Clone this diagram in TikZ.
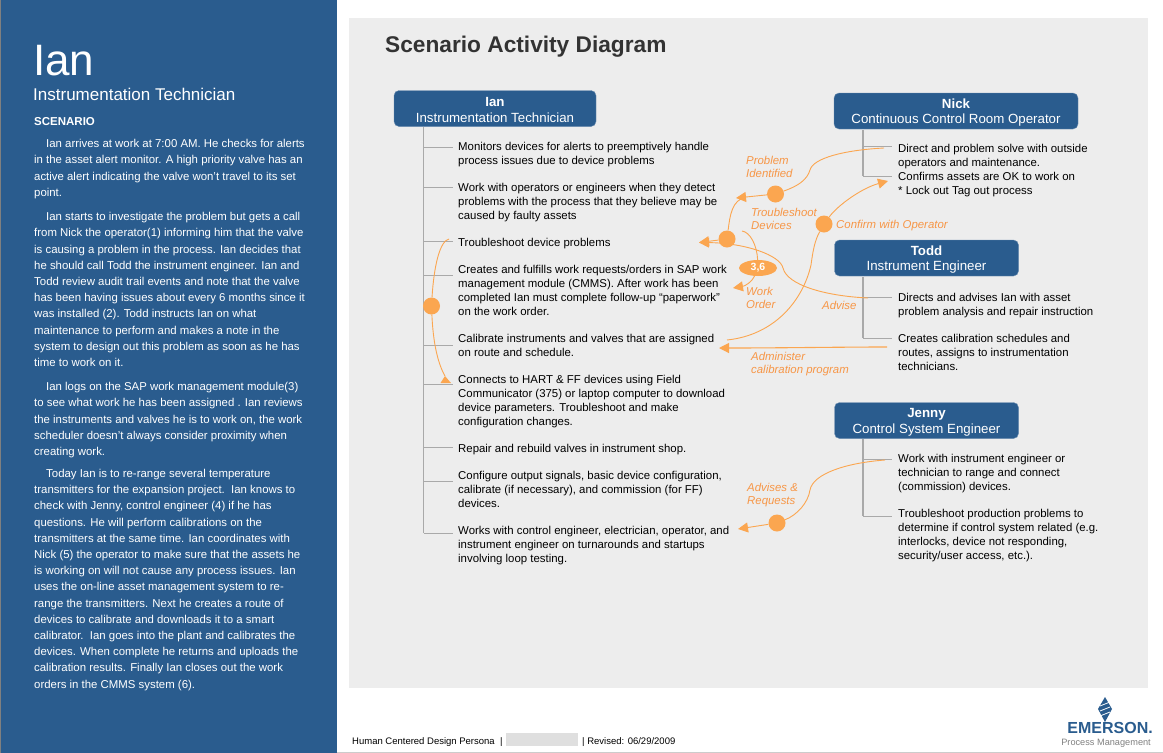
\documentclass[tikz,border=0pt]{standalone}
\usepackage{fontspec}
\setmainfont{Liberation Sans}
\usetikzlibrary{arrows.meta,positioning,shapes.geometric}
\definecolor{panelblue}{HTML}{2A5C8E}
\definecolor{pagegray}{HTML}{EDEDED}
\definecolor{flow}{HTML}{FBA650}
\definecolor{flowtext}{HTML}{F79646}
\definecolor{treegray}{HTML}{A9A9A9}
\newcommand{\headstrut}{\rule{0pt}{12.5pt}}
\tikzset{
    header/.style={draw=panelblue!70, fill=panelblue, rounded corners=5pt, minimum height=36pt, text=white,
        align=center, font=\fontsize{13.3}{15.5}\selectfont, inner sep=0pt},
    activity/.style={anchor=north west, inner sep=0pt, align=left, text=black, font=\fontsize{11.4}{13.9}\selectfont},
    story/.style={anchor=north west, inner sep=0pt, align=left, text=white, font=\fontsize{11.4}{16.2}\selectfont},
    flowlabel/.style={anchor=north west, inner sep=0pt, align=left, text=flowtext, font=\fontsize{11.4}{13}\selectfont\itshape},
    dot/.style={circle, fill=flow, minimum size=17pt, inner sep=0pt},
    flowline/.style={flow, line width=0.9pt},
    flowarrow/.style={flow, line width=0.9pt, -{Triangle[length=10pt,width=10pt]}},
    tree/.style={treegray, line width=1.2pt},
    tick/.style={treegray, line width=1pt},
}
\begin{document}
\begin{tikzpicture}[x=1pt, y=-1pt]
    \useasboundingbox (0,0) rectangle (1163,753);
    % Panels
    \fill[panelblue] (0,0) rectangle (337,753);
    \fill[gray] (0,0) rectangle (1,753);
    \fill[pagegray] (349,18) rectangle (1148,688);
    \draw[gray!40, line width=0.8pt] (337,752) -- (1163,752);
    % Persona
    \node[anchor=base west, inner sep=0pt, text=white, font=\fontsize{44}{44}\selectfont] (name) at (33,75) {Ian};
    \node[anchor=base west, inner sep=0pt, text=white, font=\fontsize{17}{17}\selectfont] (role) at (33,100) {Instrumentation Technician};
    \node[anchor=base west, inner sep=0pt, text=white, font=\fontsize{11.5}{12}\selectfont\bfseries] (scenario) at (34,125) {SCENARIO};
    \node[story] (para1) at (34,139.2) {\hspace*{12pt}Ian arrives at work at 7:00 AM. He checks for alerts\\
        in the asset alert monitor. A high priority valve has an\\
        active alert indicating the valve won't travel to its set\\
        point.};
    \node[story] (para2) at (34,212.2) {\hspace*{12pt}Ian starts to investigate the problem but gets a call\\
        from Nick the operator(1) informing him that the valve\\
        is causing a problem in the process. Ian decides that\\
        he should call Todd the instrument engineer. Ian and\\
        Todd review audit trail events and note that the valve\\
        has been having issues about every 6 months since it\\
        was installed (2). Todd instructs Ian on what\\
        maintenance to perform and makes a note in the\\
        system to design out this problem as soon as he has\\
        time to work on it.};
    \node[story] (para3) at (34,382.2) {\hspace*{12pt}Ian logs on the SAP work management module(3)\\
        to see what work he has been assigned . Ian reviews\\
        the instruments and valves he is to work on, the work\\
        scheduler doesn't always consider proximity when\\
        creating work.};
    \node[story] (para4) at (34,469) {\hspace*{12pt}Today Ian is to re-range several temperature\\
        transmitters for the expansion project.\ \ Ian knows to\\
        check with Jenny, control engineer (4) if he has\\
        questions. He will perform calibrations on the\\
        transmitters at the same time. Ian coordinates with\\
        Nick (5) the operator to make sure that the assets he\\
        is working on will not cause any process issues. Ian\\
        uses the on-line asset management system to re-\\
        range the transmitters. Next he creates a route of\\
        devices to calibrate and downloads it to a smart\\
        calibrator.\ \ Ian goes into the plant and calibrates the\\
        devices. When complete he returns and uploads the\\
        calibration results. Finally Ian closes out the work\\
        orders in the CMMS system (6).};
    % Title
    \node[anchor=base west, inner sep=0pt, text=black!80, font=\fontsize{22.7}{24}\selectfont\bfseries] (title) at (385,52.5) {Scenario Activity Diagram};
    % Headers
    \node[header, minimum width=202pt] (ian) at (495,108.5) {\headstrut\textbf{Ian}\\Instrumentation Technician};
    \node[header, minimum width=244pt] (nick) at (956,111) {\headstrut\textbf{Nick}\\Continuous Control Room Operator};
    \node[header, minimum width=184pt] (todd) at (926.5,258) {\headstrut\textbf{Todd}\\Instrument Engineer};
    \node[header, minimum width=184pt] (jenny) at (926.5,420.5) {\headstrut\textbf{Jenny}\\Control System Engineer};
    % Ian activities
    \node[activity] (monitor) at (458,142.5) {Monitors devices for alerts to preemptively handle\\process issues due to device problems};
    \node[activity] (work) at (458,183) {Work with operators or engineers when they detect\\problems with the process that they believe may be\\caused by faulty assets};
    \node[activity] (shoot) at (458,238.5) {Troubleshoot device problems};
    \node[activity] (orders) at (458,265.5) {Creates and fulfills work requests/orders in SAP work\\management module (CMMS). After work has been\\completed Ian must complete follow-up ``paperwork''\\on the work order.};
    \node[activity] (calib) at (458,334.5) {Calibrate instruments and valves that are assigned\\on route and schedule.};
    \node[activity] (hart) at (458,375) {Connects to HART \& FF devices using Field\\Communicator (375) or laptop computer to download\\device parameters. Troubleshoot and make\\configuration changes.};
    \node[activity] (repair) at (458,444.5) {Repair and rebuild valves in instrument shop.};
    \node[activity] (config) at (458,471) {Configure output signals, basic device configuration,\\calibrate (if necessary), and commission (for FF)\\devices.};
    \node[activity] (loop) at (458,526) {Works with control engineer, electrician, operator, and\\instrument engineer on turnarounds and startups\\involving loop testing.};
    % Nick, Todd, Jenny activities
    \node[activity] (direct) at (898,144.5) {Direct and problem solve with outside\\operators and maintenance.};
    \node[activity] (confirm) at (898,172) {Confirms assets are OK to work on\\* Lock out Tag out process};
    \node[activity] (advises) at (898,293.5) {Directs and advises Ian with asset\\problem analysis and repair instruction};
    \node[activity] (schedules) at (898,334) {Creates calibration schedules and\\routes, assigns to instrumentation\\technicians.};
    \node[activity] (range) at (898,454.5) {Work with instrument engineer or\\technician to range and connect\\(commission) devices.};
    \node[activity] (production) at (898,509.5) {Troubleshoot production problems to\\determine if control system related (e.g.\\interlocks, device not responding,\\security/user access, etc.).};
    % Trees
    \draw[tree] (423.5,127) -- (423.5,533);
    \foreach \ypos in {147,187,241,275,345,384,447,481,533}
        \draw[tick] (423.5,\ypos) -- (453,\ypos);
    \draw[tree] (863,130) -- (863,176);
    \draw[tick] (863,146) -- (892,146);
    \draw[tick] (863,176) -- (892,176);
    \draw[tree] (863,277) -- (863,338);
    \draw[tick] (863,297) -- (892,297);
    \draw[tick] (863,338) -- (892,338);
    \draw[tree] (863,439) -- (863,516);
    \draw[tick] (863,459) -- (892,459);
    \draw[tick] (863,516) -- (892,516);
    % Flow dots
    \node[dot] (dotleft) at (431.5,306) {};
    \node[dot] (dotproblem) at (775.5,194) {};
    \node[dot] (dotshoot) at (727,239) {};
    \node[dot] (dotconfirm) at (824,224) {};
    \node[dot] (dotadvise) at (777,523) {};
    \node[ellipse, fill=flow, minimum width=38pt, minimum height=16pt, inner sep=0pt, text=white, font=\fontsize{10.5}{12}\selectfont\bfseries] (order) at (758,268) {3,6};
    % Flow ends
    \coordinate (fromdirect) at (884,148);
    \coordinate (toproblem) at (736,198);
    \coordinate (joinproblem) at (746,197);
    \coordinate (toshoot) at (699,242.5);
    \coordinate (fromshoot) at (449,239);
    \coordinate (tohart) at (445,376);
    \coordinate (toconfirm) at (888,181);
    \coordinate (fromcalib) at (727,340);
    \coordinate (fromadvise) at (868,298);
    \coordinate (fromtroub) at (742,231);
    \coordinate (toorder) at (733,288);
    \coordinate (fromschedule) at (887,347);
    \coordinate (tocalib) at (719,348);
    \coordinate (fromrange) at (885,460);
    \coordinate (toloop) at (738,529);
    % Flows
    \draw[flowline] (fromdirect) .. controls (845,150) and (813,158) .. (810,170) .. controls (807,180) and (798,186) .. (dotproblem);
    \draw[flowarrow] (dotproblem) -- (toproblem);
    \draw[flowline] (dotshoot) .. controls (730,215) and (732,200) .. (joinproblem);
    \draw[flowarrow] (dotshoot) -- (toshoot);
    \draw[flowline] (fromcalib) .. controls (775,335) and (803,300) .. (811,265) .. controls (813,250) and (815,240) .. (dotconfirm);
    \draw[flowarrow] (dotconfirm) .. controls (838,205) and (862,188) .. (toconfirm);
    \draw[flowarrow] (fromadvise) .. controls (825,296) and (787,285) .. (783,268) .. controls (780,255) and (745,243) .. (toshoot);
    \draw[flowline] (fromtroub) .. controls (750,232) and (757,245) .. (order);
    \draw[flowarrow] (order) .. controls (752,282) and (745,286) .. (toorder);
    \draw[flowarrow, line width=1.1pt] (fromschedule) .. controls (840,347) and (780,348) .. (tocalib);
    \draw[flowline] (fromrange) .. controls (845,463) and (813,474) .. (810,490) .. controls (808,503) and (797,515) .. (dotadvise);
    \draw[flowarrow] (dotadvise) -- (toloop);
    \draw[flowline] (fromshoot) .. controls (440,241) and (434,265) .. (dotleft);
    \draw[flowline] (dotleft) .. controls (433,340) and (437,362) .. (tohart);
    \fill[flow] (440.5,383) -- (451,383) -- (tohart) -- cycle;
    % Flow labels
    \node[flowlabel] (lblproblem) at (746,156.5) {Problem\\Identified};
    \node[flowlabel] (lbltroub) at (751,208.5) {Troubleshoot\\Devices};
    \node[flowlabel] (lblconfirm) at (836,220.5) {Confirm with Operator};
    \node[flowlabel] (lblorder) at (746,287.5) {Work\\Order};
    \node[flowlabel] (lbladvise) at (822,301.5) {Advise};
    \node[flowlabel] (lbladmin) at (751,352.5) {Administer\\calibration program};
    \node[flowlabel] (lblrequest) at (747,483.5) {Advises \&\\Requests};
    % Footer
    \node[anchor=base west, inner sep=0pt, font=\fontsize{9.5}{10}\selectfont] (footer) at (352,744) {Human Centered Design Persona\ \ |};
    \fill[gray!25] (506,733) rectangle (578,746);
    \node[anchor=base west, inner sep=0pt, font=\fontsize{9.5}{10}\selectfont] (revised) at (582,744) {| Revised: 06/29/2009};
    % Logo
    \fill[panelblue] (1105,697) -- (1112,709) -- (1105,722) -- (1098,709) -- cycle;
    \foreach \ypos in {704,709,714}
        \draw[white, line width=0.8pt] (1100,\ypos+2) -- (1110,\ypos-2);
    \node[anchor=base east, inner sep=0pt, text=panelblue, font=\fontsize{16}{16}\selectfont\bfseries] (brand) at (1153,733) {EMERSON.};
    \node[anchor=base east, inner sep=0pt, text=gray, font=\fontsize{9.2}{10}\selectfont] (brandsub) at (1151,745) {Process Management};
\end{tikzpicture}
\end{document}
